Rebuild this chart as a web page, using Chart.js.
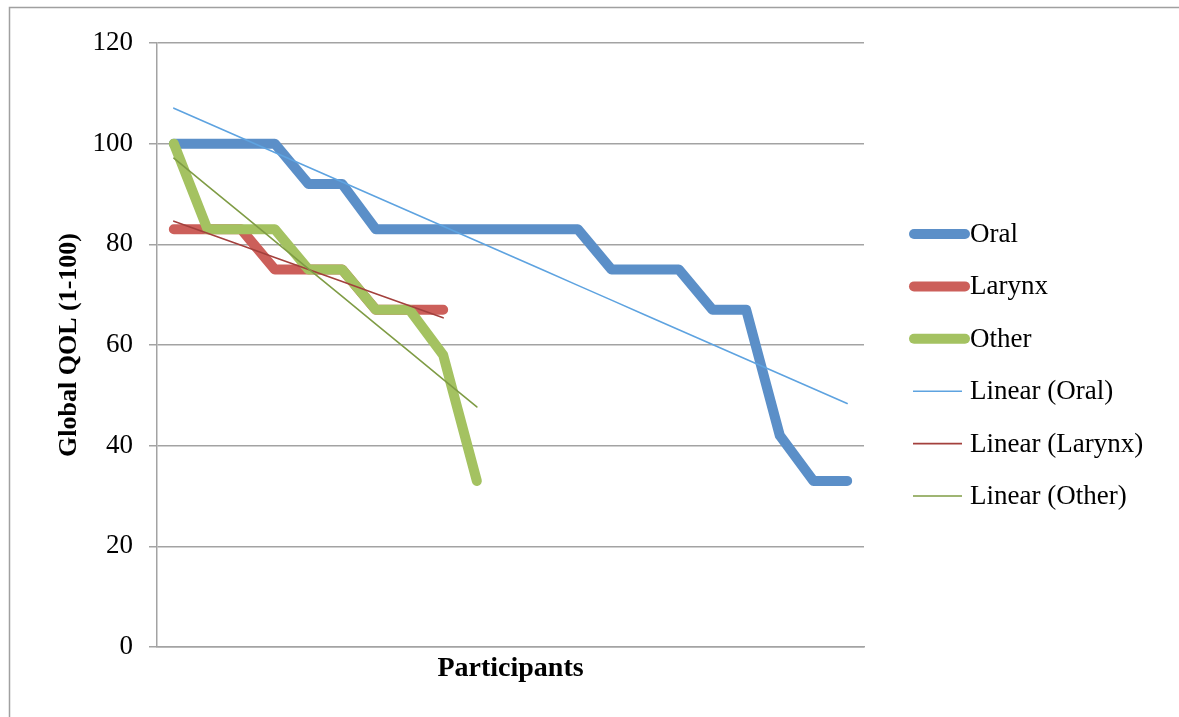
<!DOCTYPE html>
<html>
<head>
    <title>Global QOL by Participants</title>
    <script src="https://cdn.jsdelivr.net/npm/chart.js"></script>
    <style>
        body { margin: 0; background: #fff; }
    </style>
</head>
<body>
<canvas id="qolChart" width="1179" height="717"></canvas>
<script>
    // values
    const participants = ['', '', '', '', '', '', '', '', '', '', '', '', '', '', '', '', '', '', '', '', ''];
    const oral = [100, 100, 100, 100, 92, 92, 83, 83, 83, 83, 83, 83, 83, 75, 75, 75, 67, 67, 42, 33, 33];
    const larynx = [83, 83, 83, 75, 75, 75, 67, 67, 67];
    const other = [100, 83, 83, 83, 75, 75, 67, 67, 58, 33];
    const yTicks = [0, 20, 40, 60, 80, 100, 120];

    // least squares trend line, like Excel's "Linear" trendline
    function linearTrend(values) {
        const n = values.length;
        let sx = 0, sy = 0, sxy = 0, sxx = 0;
        values.forEach((y, x) => { sx += x; sy += y; sxy += x * y; sxx += x * x; });
        const slope = (n * sxy - sx * sy) / (n * sxx - sx * sx);
        const icept = (sy - slope * sx) / n;
        return values.map((y, x) => icept + slope * x);
    }

    const serif = '"Liberation Serif", "Times New Roman", serif';
    const gridGray = '#a3a3a3';

    const framePlugin = {
        id: 'frame',
        beforeDraw(chart) {
            const ctx = chart.ctx;
            ctx.save();
            ctx.fillStyle = '#fff';
            ctx.fillRect(0, 0, chart.width, chart.height);
            ctx.strokeStyle = '#a0a0a0';
            ctx.lineWidth = 1.5;
            ctx.strokeRect(9.5, 7.5, 3000, 3000);
            ctx.restore();
        }
    };

    // legend drawn by hand so it sits where the original has it
    const sideLegend = {
        id: 'sideLegend',
        afterDraw(chart) {
            const ctx = chart.ctx;
            ctx.save();
            ctx.font = '27px ' + serif;
            ctx.textBaseline = 'middle';
            ctx.fillStyle = '#000';
            chart.data.datasets.forEach((ds, i) => {
                const y = 234 + i * 52.4;
                const thick = ds.borderWidth > 3;
                ctx.strokeStyle = ds.borderColor;
                ctx.lineWidth = ds.borderWidth;
                ctx.lineCap = thick ? 'round' : 'butt';
                ctx.beginPath();
                ctx.moveTo(thick ? 914 : 913, y);
                ctx.lineTo(thick ? 965 : 962, y);
                ctx.stroke();
                ctx.fillText(ds.label, 970, y + 1);
            });
            ctx.restore();
        }
    };

    const ctx = document.getElementById('qolChart').getContext('2d');
    new Chart(ctx, {
        type: 'line',
        data: {
            labels: participants,
            datasets: [
                { label: 'Oral', data: oral, borderColor: '#5b8fc8', borderWidth: 10, order: 6 },
                { label: 'Larynx', data: larynx, borderColor: '#cc5f5a', borderWidth: 10, order: 5 },
                { label: 'Other', data: other, borderColor: '#a4c261', borderWidth: 10, order: 4 },
                { label: 'Linear (Oral)', data: linearTrend(oral), borderColor: '#5ea3e0', borderWidth: 1.6, order: 3 },
                { label: 'Linear (Larynx)', data: linearTrend(larynx), borderColor: '#a3403d', borderWidth: 1.6, order: 2 },
                { label: 'Linear (Other)', data: linearTrend(other), borderColor: '#7f9c45', borderWidth: 1.6, order: 1 }
            ]
        },
        options: {
            responsive: false,
            animation: false,
            datasets: {
                line: {
                    pointRadius: 0,
                    pointHoverRadius: 0,
                    borderCapStyle: 'round',
                    borderJoinStyle: 'round',
                    tension: 0,
                    fill: false
                }
            },
            layout: { padding: { left: 22, top: 43, right: 315, bottom: 20 } },
            plugins: {
                legend: { display: false },
                tooltip: { enabled: false }
            },
            scales: {
                x: {
                    type: 'category',
                    offset: true,
                    grid: { display: false },
                    border: { display: true, color: gridGray, width: 1.5 },
                    ticks: { display: false },
                    title: {
                        display: true,
                        text: 'Participants',
                        color: '#000',
                        font: { family: serif, size: 28, weight: 'bold' },
                        padding: { top: 0, bottom: 11 }
                    },
                    afterFit(scale) { scale.height = 50; }
                },
                y: {
                    min: 0,
                    max: 120,
                    afterBuildTicks(scale) { scale.ticks = yTicks.map(v => ({ value: v })); },
                    grid: { color: gridGray, lineWidth: 1.5, tickLength: 8 },
                    border: { color: gridGray, width: 1.5 },
                    ticks: {
                        color: '#000',
                        padding: 16,
                        font: { family: serif, size: 27 }
                    },
                    title: {
                        display: true,
                        text: 'Global QOL (1-100)',
                        color: '#000',
                        font: { family: serif, size: 26, weight: 'bold' },
                        padding: { top: 32, bottom: 0 }
                    },
                    afterFit(scale) { scale.width = 135; }
                }
            }
        },
        plugins: [framePlugin, sideLegend]
    });
</script>
</body>
</html>
